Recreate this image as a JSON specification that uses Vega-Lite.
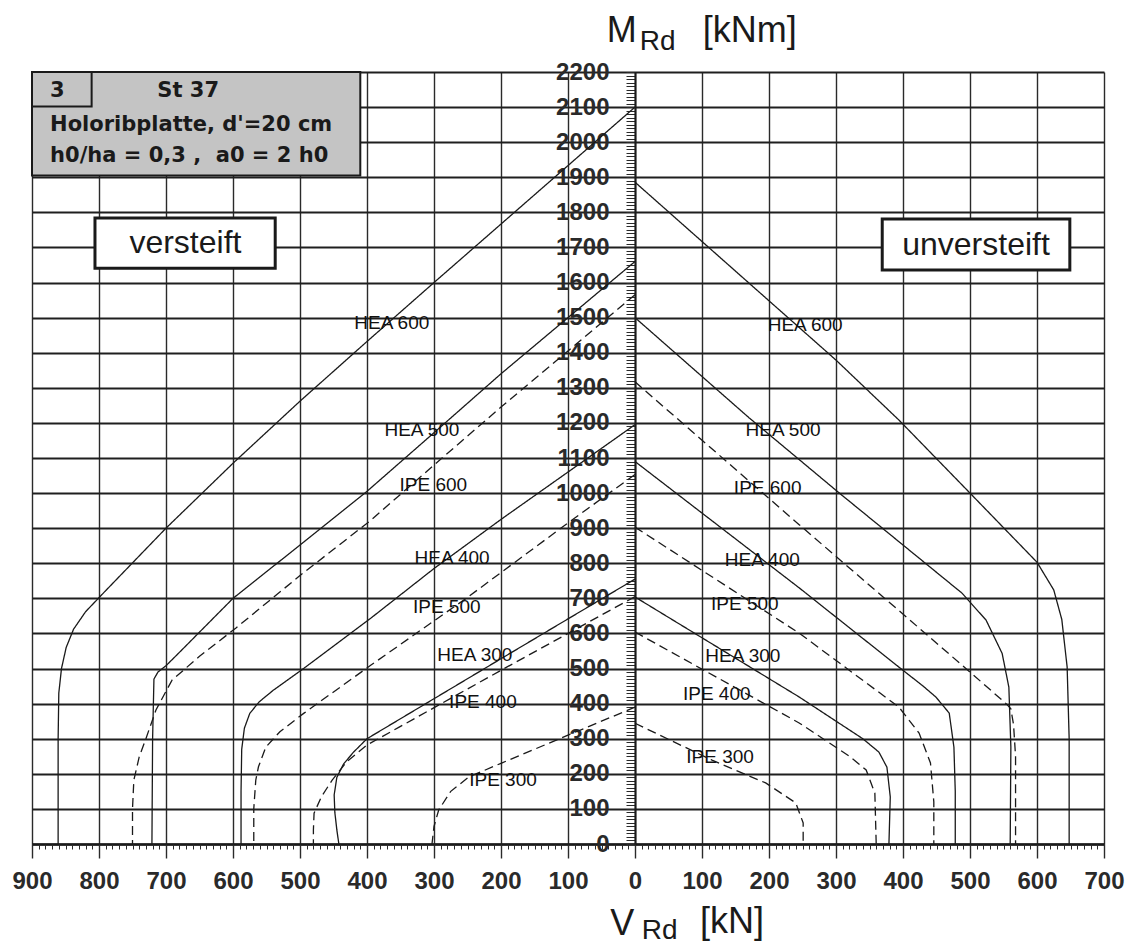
{
  "$schema": "https://vega.github.io/schema/vega-lite/v6.json",
  "width": 1072,
  "height": 772,
  "autosize": {"type": "none"},
  "padding": {"left": 32, "top": 72, "right": 26, "bottom": 103},
  "background": "white",
  "config": {"view": {"stroke": null}, "font": "Liberation Sans"},
  "datasets": {
    "curves": [
      {"c":"HEA600L","s":"solid","i":0,"v":0,"m":2100},{"c":"HEA600L","s":"solid","i":1,"v":-300,"m":1600},{"c":"HEA600L","s":"solid","i":2,"v":-400,"m":1432},{"c":"HEA600L","s":"solid","i":3,"v":-500,"m":1262},{"c":"HEA600L","s":"solid","i":4,"v":-600,"m":1085},{"c":"HEA600L","s":"solid","i":5,"v":-700,"m":900},{"c":"HEA600L","s":"solid","i":6,"v":-790,"m":722},{"c":"HEA600L","s":"solid","i":7,"v":-820,"m":662},{"c":"HEA600L","s":"solid","i":8,"v":-838,"m":612},{"c":"HEA600L","s":"solid","i":9,"v":-849,"m":560},{"c":"HEA600L","s":"solid","i":10,"v":-856,"m":500},{"c":"HEA600L","s":"solid","i":11,"v":-860,"m":430},{"c":"HEA600L","s":"solid","i":12,"v":-861,"m":300},{"c":"HEA600L","s":"solid","i":13,"v":-861,"m":0},
      {"c":"HEA500L","s":"solid","i":0,"v":0,"m":1660},{"c":"HEA500L","s":"solid","i":1,"v":-100,"m":1500},{"c":"HEA500L","s":"solid","i":2,"v":-200,"m":1340},{"c":"HEA500L","s":"solid","i":3,"v":-300,"m":1172},{"c":"HEA500L","s":"solid","i":4,"v":-400,"m":1005},{"c":"HEA500L","s":"solid","i":5,"v":-500,"m":852},{"c":"HEA500L","s":"solid","i":6,"v":-600,"m":700},{"c":"HEA500L","s":"solid","i":7,"v":-680,"m":546},{"c":"HEA500L","s":"solid","i":8,"v":-700,"m":508},{"c":"HEA500L","s":"solid","i":9,"v":-712,"m":490},{"c":"HEA500L","s":"solid","i":10,"v":-718,"m":470},{"c":"HEA500L","s":"solid","i":11,"v":-720,"m":300},{"c":"HEA500L","s":"solid","i":12,"v":-721,"m":0},
      {"c":"IPE600L","s":"dashed","i":0,"v":0,"m":1565},{"c":"IPE600L","s":"dashed","i":1,"v":-100,"m":1405},{"c":"IPE600L","s":"dashed","i":2,"v":-200,"m":1245},{"c":"IPE600L","s":"dashed","i":3,"v":-300,"m":1080},{"c":"IPE600L","s":"dashed","i":4,"v":-394,"m":923},{"c":"IPE600L","s":"dashed","i":5,"v":-500,"m":765},{"c":"IPE600L","s":"dashed","i":6,"v":-596,"m":615},{"c":"IPE600L","s":"dashed","i":7,"v":-650,"m":535},{"c":"IPE600L","s":"dashed","i":8,"v":-691,"m":467},{"c":"IPE600L","s":"dashed","i":9,"v":-715,"m":382},{"c":"IPE600L","s":"dashed","i":10,"v":-730,"m":300},{"c":"IPE600L","s":"dashed","i":11,"v":-740,"m":248},{"c":"IPE600L","s":"dashed","i":12,"v":-748,"m":182},{"c":"IPE600L","s":"dashed","i":13,"v":-750,"m":100},{"c":"IPE600L","s":"dashed","i":14,"v":-750,"m":0},
      {"c":"HEA400L","s":"solid","i":0,"v":0,"m":1195},{"c":"HEA400L","s":"solid","i":1,"v":-100,"m":1060},{"c":"HEA400L","s":"solid","i":2,"v":-200,"m":925},{"c":"HEA400L","s":"solid","i":3,"v":-300,"m":785},{"c":"HEA400L","s":"solid","i":4,"v":-394,"m":644},{"c":"HEA400L","s":"solid","i":5,"v":-494,"m":501},{"c":"HEA400L","s":"solid","i":6,"v":-540,"m":438},{"c":"HEA400L","s":"solid","i":7,"v":-561,"m":405},{"c":"HEA400L","s":"solid","i":8,"v":-575,"m":372},{"c":"HEA400L","s":"solid","i":9,"v":-583,"m":330},{"c":"HEA400L","s":"solid","i":10,"v":-587,"m":270},{"c":"HEA400L","s":"solid","i":11,"v":-588,"m":150},{"c":"HEA400L","s":"solid","i":12,"v":-588,"m":0},
      {"c":"IPE500L","s":"dashed","i":0,"v":0,"m":1053},{"c":"IPE500L","s":"dashed","i":1,"v":-100,"m":915},{"c":"IPE500L","s":"dashed","i":2,"v":-252,"m":700},{"c":"IPE500L","s":"dashed","i":3,"v":-394,"m":510},{"c":"IPE500L","s":"dashed","i":4,"v":-494,"m":373},{"c":"IPE500L","s":"dashed","i":5,"v":-530,"m":320},{"c":"IPE500L","s":"dashed","i":6,"v":-551,"m":276},{"c":"IPE500L","s":"dashed","i":7,"v":-562,"m":220},{"c":"IPE500L","s":"dashed","i":8,"v":-566,"m":182},{"c":"IPE500L","s":"dashed","i":9,"v":-569,"m":100},{"c":"IPE500L","s":"dashed","i":10,"v":-569,"m":0},
      {"c":"HEA300L","s":"solid","i":0,"v":0,"m":755},{"c":"HEA300L","s":"solid","i":1,"v":-200,"m":528},{"c":"HEA300L","s":"solid","i":2,"v":-400,"m":300},{"c":"HEA300L","s":"solid","i":3,"v":-420,"m":262},{"c":"HEA300L","s":"solid","i":4,"v":-435,"m":228},{"c":"HEA300L","s":"solid","i":5,"v":-445,"m":190},{"c":"HEA300L","s":"solid","i":6,"v":-449,"m":140},{"c":"HEA300L","s":"solid","i":7,"v":-448,"m":90},{"c":"HEA300L","s":"solid","i":8,"v":-445,"m":40},{"c":"HEA300L","s":"solid","i":9,"v":-442,"m":0},
      {"c":"IPE400L","s":"dashed","i":0,"v":0,"m":705},{"c":"IPE400L","s":"dashed","i":1,"v":-200,"m":495},{"c":"IPE400L","s":"dashed","i":2,"v":-352,"m":333},{"c":"IPE400L","s":"dashed","i":3,"v":-400,"m":282},{"c":"IPE400L","s":"dashed","i":4,"v":-430,"m":235},{"c":"IPE400L","s":"dashed","i":5,"v":-452,"m":182},{"c":"IPE400L","s":"dashed","i":6,"v":-468,"m":135},{"c":"IPE400L","s":"dashed","i":7,"v":-479,"m":88},{"c":"IPE400L","s":"dashed","i":8,"v":-480,"m":40},{"c":"IPE400L","s":"dashed","i":9,"v":-480,"m":0},
      {"c":"IPE300L","s":"dashed","i":0,"v":0,"m":390},{"c":"IPE300L","s":"dashed","i":1,"v":-100,"m":310},{"c":"IPE300L","s":"dashed","i":2,"v":-200,"m":230},{"c":"IPE300L","s":"dashed","i":3,"v":-248,"m":191},{"c":"IPE300L","s":"dashed","i":4,"v":-275,"m":150},{"c":"IPE300L","s":"dashed","i":5,"v":-293,"m":97},{"c":"IPE300L","s":"dashed","i":6,"v":-300,"m":50},{"c":"IPE300L","s":"dashed","i":7,"v":-303,"m":0},
      {"c":"HEA600R","s":"solid","i":0,"v":0,"m":1886},{"c":"HEA600R","s":"solid","i":1,"v":100,"m":1717},{"c":"HEA600R","s":"solid","i":2,"v":200,"m":1548},{"c":"HEA600R","s":"solid","i":3,"v":300,"m":1379},{"c":"HEA600R","s":"solid","i":4,"v":394,"m":1208},{"c":"HEA600R","s":"solid","i":5,"v":500,"m":1000},{"c":"HEA600R","s":"solid","i":6,"v":600,"m":803},{"c":"HEA600R","s":"solid","i":7,"v":625,"m":724},{"c":"HEA600R","s":"solid","i":8,"v":637,"m":640},{"c":"HEA600R","s":"solid","i":9,"v":645,"m":504},{"c":"HEA600R","s":"solid","i":10,"v":648,"m":300},{"c":"HEA600R","s":"solid","i":11,"v":648,"m":0},
      {"c":"HEA500R","s":"solid","i":0,"v":0,"m":1500},{"c":"HEA500R","s":"solid","i":1,"v":170,"m":1215},{"c":"HEA500R","s":"solid","i":2,"v":305,"m":1000},{"c":"HEA500R","s":"solid","i":3,"v":488,"m":715},{"c":"HEA500R","s":"solid","i":4,"v":524,"m":638},{"c":"HEA500R","s":"solid","i":5,"v":548,"m":543},{"c":"HEA500R","s":"solid","i":6,"v":558,"m":447},{"c":"HEA500R","s":"solid","i":7,"v":561,"m":276},{"c":"HEA500R","s":"solid","i":8,"v":560,"m":0},
      {"c":"IPE600R","s":"dashed","i":0,"v":0,"m":1317},{"c":"IPE600R","s":"dashed","i":1,"v":245,"m":910},{"c":"IPE600R","s":"dashed","i":2,"v":394,"m":665},{"c":"IPE600R","s":"dashed","i":3,"v":500,"m":490},{"c":"IPE600R","s":"dashed","i":4,"v":555,"m":398},{"c":"IPE600R","s":"dashed","i":5,"v":561,"m":385},{"c":"IPE600R","s":"dashed","i":6,"v":565,"m":340},{"c":"IPE600R","s":"dashed","i":7,"v":568,"m":250},{"c":"IPE600R","s":"dashed","i":8,"v":568,"m":0},
      {"c":"HEA400R","s":"solid","i":0,"v":0,"m":1090},{"c":"HEA400R","s":"solid","i":1,"v":245,"m":730},{"c":"HEA400R","s":"solid","i":2,"v":394,"m":504},{"c":"HEA400R","s":"solid","i":3,"v":430,"m":450},{"c":"HEA400R","s":"solid","i":4,"v":449,"m":419},{"c":"HEA400R","s":"solid","i":5,"v":469,"m":373},{"c":"HEA400R","s":"solid","i":6,"v":476,"m":276},{"c":"HEA400R","s":"solid","i":7,"v":478,"m":150},{"c":"HEA400R","s":"solid","i":8,"v":478,"m":0},
      {"c":"IPE500R","s":"dashed","i":0,"v":0,"m":903},{"c":"IPE500R","s":"dashed","i":1,"v":245,"m":601},{"c":"IPE500R","s":"dashed","i":2,"v":394,"m":390},{"c":"IPE500R","s":"dashed","i":3,"v":424,"m":316},{"c":"IPE500R","s":"dashed","i":4,"v":441,"m":231},{"c":"IPE500R","s":"dashed","i":5,"v":446,"m":120},{"c":"IPE500R","s":"dashed","i":6,"v":446,"m":0},
      {"c":"HEA300R","s":"solid","i":0,"v":0,"m":704},{"c":"HEA300R","s":"solid","i":1,"v":245,"m":419},{"c":"HEA300R","s":"solid","i":2,"v":340,"m":300},{"c":"HEA300R","s":"solid","i":3,"v":364,"m":262},{"c":"HEA300R","s":"solid","i":4,"v":376,"m":219},{"c":"HEA300R","s":"solid","i":5,"v":381,"m":134},{"c":"HEA300R","s":"solid","i":6,"v":379,"m":0},
      {"c":"IPE400R","s":"dashed","i":0,"v":0,"m":604},{"c":"IPE400R","s":"dashed","i":1,"v":245,"m":345},{"c":"IPE400R","s":"dashed","i":2,"v":320,"m":250},{"c":"IPE400R","s":"dashed","i":3,"v":345,"m":211},{"c":"IPE400R","s":"dashed","i":4,"v":358,"m":145},{"c":"IPE400R","s":"dashed","i":5,"v":360,"m":0},
      {"c":"IPE300R","s":"dashed","i":0,"v":0,"m":344},{"c":"IPE300R","s":"dashed","i":1,"v":115,"m":239},{"c":"IPE300R","s":"dashed","i":2,"v":195,"m":174},{"c":"IPE300R","s":"dashed","i":3,"v":240,"m":117},{"c":"IPE300R","s":"dashed","i":4,"v":251,"m":60},{"c":"IPE300R","s":"dashed","i":5,"v":251,"m":0}
    ],
    "infobox": [
      {"x1": -900, "x2": -410, "y1": 1905, "y2": 2200},
      {"x1": -900, "x2": -811, "y1": 2102, "y2": 2200}
    ],
    "infotext": [
      {"t": "3", "v": -873, "m": 2129},
      {"t": "St 37", "v": -713, "m": 2129},
      {"t": "Holoribplatte, d'=20 cm", "v": -873, "m": 2032},
      {"t": "h0/ha = 0,3 ,\u00a0 a0 = 2 h0", "v": -873, "m": 1943}
    ],
    "sideboxes": [
      {"t": "versteift", "x1": -806, "x2": -537, "y1": 1641, "y2": 1784, "cx": -671, "cy": 1712},
      {"t": "unversteift", "x1": 369, "x2": 649, "y1": 1636, "y2": 1781, "cx": 509, "cy": 1708}
    ],
    "curvelabels": [
      {"t": "HEA 600", "v": -363, "m": 1485},
      {"t": "HEA 500", "v": -318, "m": 1180},
      {"t": "IPE 600", "v": -301, "m": 1023},
      {"t": "HEA 400", "v": -273, "m": 815},
      {"t": "IPE 500", "v": -281, "m": 675},
      {"t": "HEA 300", "v": -239, "m": 538},
      {"t": "IPE 400", "v": -227, "m": 405},
      {"t": "IPE 300", "v": -197, "m": 182},
      {"t": "HEA 600", "v": 254, "m": 1479},
      {"t": "HEA 500", "v": 221, "m": 1180},
      {"t": "IPE 600", "v": 198, "m": 1014},
      {"t": "HEA 400", "v": 190, "m": 809},
      {"t": "IPE 500", "v": 164, "m": 684},
      {"t": "HEA 300", "v": 161, "m": 536},
      {"t": "IPE 400", "v": 122, "m": 427},
      {"t": "IPE 300", "v": 127, "m": 248}
    ],
    "titlebig": [
      {"t": "M", "v": -42, "m": 2285},
      {"t": "[kNm]", "v": 101, "m": 2285},
      {"t": "V", "v": -37, "m": -258},
      {"t": "[kN]", "v": 97, "m": -255}
    ],
    "titlesub": [
      {"t": "Rd", "v": 7, "m": 2262},
      {"t": "Rd", "v": 10, "m": -272}
    ]
  },
  "layer": [
    {
      "data": {"name": "curves"},
      "mark": {"type": "line", "color": "#1a1a1a", "strokeWidth": 1.3},
      "encoding": {
        "x": {"field": "v", "type": "quantitative",
          "scale": {"domain": [-900, 700], "nice": false, "zero": false},
          "axis": {"orient": "bottom", "values": [-900,-800,-700,-600,-500,-400,-300,-200,-100,0,100,200,300,400,500,600,700],
            "grid": true, "gridColor": "#2a2a2a", "gridWidth": 1.4, "gridOpacity": 1,
            "ticks": true, "tickSize": 14, "tickColor": "#2a2a2a", "tickWidth": 1.4,
            "domain": true, "domainColor": "#1a1a1a", "domainWidth": 2.5,
            "labelExpr": "abs(datum.value)", "labelFont": "Liberation Sans", "labelFontSize": 24, "labelFontWeight": "bold",
            "labelColor": "#2a2a2a", "labelPadding": 11, "labelFlush": false, "labelOverlap": false, "title": null}},
        "y": {"field": "m", "type": "quantitative",
          "scale": {"domain": [0, 2200], "nice": false, "zero": false},
          "axis": {"orient": "left", "values": [0,100,200,300,400,500,600,700,800,900,1000,1100,1200,1300,1400,1500,1600,1700,1800,1900,2000,2100,2200],
            "grid": true, "gridColor": "#1f1f1f", "gridWidth": 2.2, "gridOpacity": 1,
            "labels": false, "ticks": false, "domain": false, "title": null}},
        "detail": {"field": "c"},
        "order": {"field": "i", "type": "quantitative"},
        "strokeDash": {"field": "s", "type": "nominal", "scale": {"domain": ["solid", "dashed"], "range": [[1, 0], [9, 5]]}, "legend": null}
      }
    },
    {
      "data": {"name": "infobox"},
      "mark": {"type": "rect", "fill": "#c4c4c4", "stroke": "#1a1a1a", "strokeWidth": 2},
      "encoding": {
        "x": {"field": "x1", "type": "quantitative",
          "axis": {"orient": "bottom", "tickCount": 160, "grid": false, "labels": false, "domain": false,
            "ticks": true, "tickSize": 5, "tickColor": "#2a2a2a", "tickWidth": 1, "title": null}},
        "x2": {"field": "x2"},
        "y": {"field": "y1", "type": "quantitative",
          "axis": {"orient": "left", "offset": -603, "tickCount": 220, "grid": false,
            "ticks": true, "tickSize": 9, "tickWidth": 1, "tickColor": "#2a2a2a",
            "domain": true, "domainWidth": 2, "domainColor": "#1a1a1a",
            "labelExpr": "datum.value % 100 === 0 ? datum.value : ''",
            "labelFont": "Liberation Sans", "labelFontSize": 24, "labelFontWeight": "bold", "labelColor": "#2a2a2a",
            "labelPadding": 17, "labelOverlap": false, "labelFlush": false, "title": null}},
        "y2": {"field": "y2"}
      }
    },
    {
      "data": {"name": "infotext"},
      "mark": {"type": "text", "align": "left", "baseline": "alphabetic", "fontSize": 21, "fontWeight": "bold", "font": "DejaVu Sans", "color": "#1a1a1a"},
      "encoding": {
        "x": {"field": "v", "type": "quantitative", "axis": null},
        "y": {"field": "m", "type": "quantitative", "axis": null},
        "text": {"field": "t"}
      }
    },
    {
      "data": {"name": "sideboxes"},
      "mark": {"type": "rect", "fill": "white", "stroke": "#1a1a1a", "strokeWidth": 3},
      "encoding": {
        "x": {"field": "x1", "type": "quantitative", "axis": null},
        "x2": {"field": "x2"},
        "y": {"field": "y1", "type": "quantitative", "axis": null},
        "y2": {"field": "y2"}
      }
    },
    {
      "data": {"name": "sideboxes"},
      "mark": {"type": "text", "align": "center", "baseline": "middle", "fontSize": 32, "font": "Liberation Sans", "color": "#1a1a1a"},
      "encoding": {
        "x": {"field": "cx", "type": "quantitative", "axis": null},
        "y": {"field": "cy", "type": "quantitative", "axis": null},
        "text": {"field": "t"}
      }
    },
    {
      "data": {"name": "curvelabels"},
      "mark": {"type": "text", "align": "center", "baseline": "middle", "fontSize": 19, "font": "Liberation Sans", "color": "#111111"},
      "encoding": {
        "x": {"field": "v", "type": "quantitative", "axis": null},
        "y": {"field": "m", "type": "quantitative", "axis": null},
        "text": {"field": "t"}
      }
    },
    {
      "data": {"name": "titlebig"},
      "mark": {"type": "text", "align": "left", "baseline": "alphabetic", "fontSize": 36, "font": "Liberation Sans", "color": "#1a1a1a"},
      "encoding": {
        "x": {"field": "v", "type": "quantitative", "axis": null},
        "y": {"field": "m", "type": "quantitative", "axis": null},
        "text": {"field": "t"}
      }
    },
    {
      "data": {"name": "titlesub"},
      "mark": {"type": "text", "align": "left", "baseline": "alphabetic", "fontSize": 28, "font": "Liberation Sans", "color": "#1a1a1a"},
      "encoding": {
        "x": {"field": "v", "type": "quantitative", "axis": null},
        "y": {"field": "m", "type": "quantitative", "axis": null},
        "text": {"field": "t"}
      }
    }
  ],
  "resolve": {"axis": {"x": "independent", "y": "independent"}}
}
